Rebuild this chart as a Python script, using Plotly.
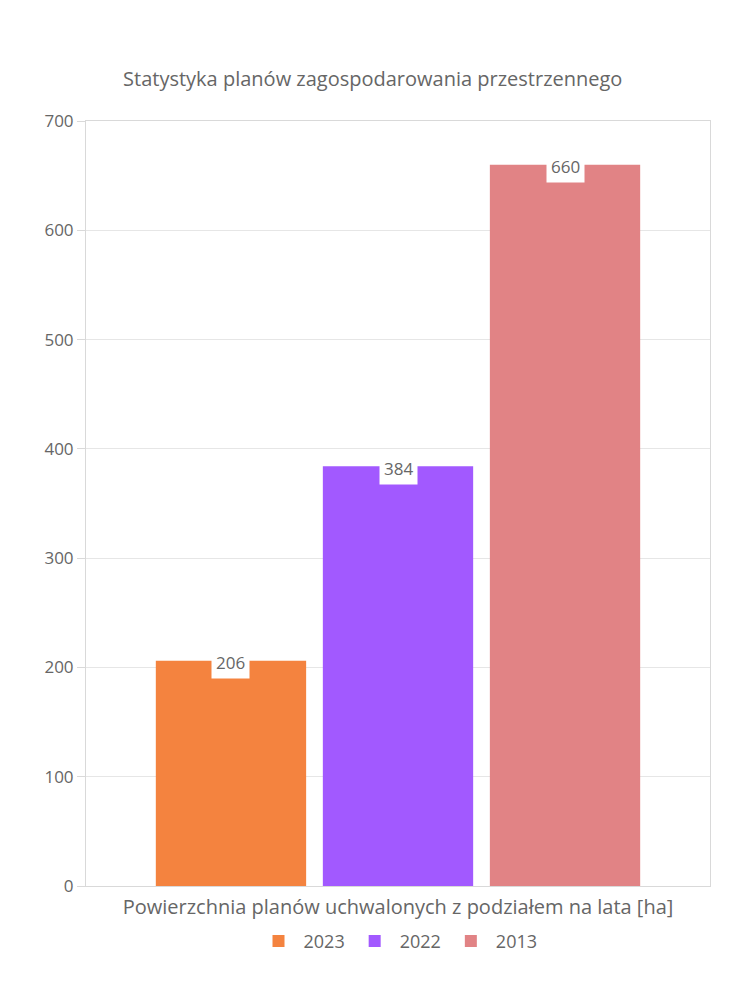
import plotly.graph_objects as go

category = ["Powierzchnia planów uchwalonych z podziałem na lata [ha]"]
series_names = ["2023", "2022", "2013"]
series_values = [206, 384, 660]
colors = ["#F4833F", "#A259FF", "#E18385"]
y_ticks = [0, 100, 200, 300, 400, 500, 600, 700]
title_text = "Statystyka planów zagospodarowania przestrzennego"

FONT = "Open Sans"
GRAY = "#666666"
bargap = 0.197

fig = go.Figure()
for name, val, col in zip(series_names, series_values, colors):
    fig.add_trace(go.Bar(x=category, y=[val], name=name, marker_color=col,
                         marker_line_width=0, hoverinfo="y"))

n = len(series_values)
slot = (1 - bargap) / n
for i, val in enumerate(series_values):
    off = (i - (n - 1) / 2) * slot
    fig.add_annotation(x=off, y=val, xref="x", yref="y", text=str(val),
                       showarrow=False, bgcolor="white", borderpad=4,
                       font=dict(family=FONT, size=17, color=GRAY),
                       yanchor="middle", yshift=-2)

fig.update_layout(
    width=750, height=1000,
    margin=dict(l=86, r=40, t=121, b=114),
    paper_bgcolor="white", plot_bgcolor="white",
    title=dict(text=title_text, x=0.497, xanchor="center", y=0.921, yanchor="middle",
               font=dict(family=FONT, size=20, color=GRAY)),
    barmode="group", bargap=bargap, bargroupgap=0.10,
    showlegend=True,
    legend=dict(orientation="h", x=0.5, xanchor="center", y=-0.048, yanchor="top",
                font=dict(family=FONT, size=18, color=GRAY), itemwidth=40,
                traceorder="normal"),
    font=dict(family=FONT, color=GRAY),
)
fig.update_yaxes(range=[0, 700], tickvals=y_ticks, showgrid=True, gridcolor="#E6E6E6",
                 gridwidth=1, zeroline=False, showline=True, linecolor="#D9D9D9", mirror=True,
                 ticks="outside", ticklen=8, tickcolor="#D9D9D9",
                 tickfont=dict(family=FONT, size=17, color=GRAY))
fig.update_xaxes(showline=True, linecolor="#D9D9D9", mirror=True, ticks="",
                 ticklabelstandoff=3,
                 tickfont=dict(family=FONT, size=20, color=GRAY))

fig.write_html("out.html")
